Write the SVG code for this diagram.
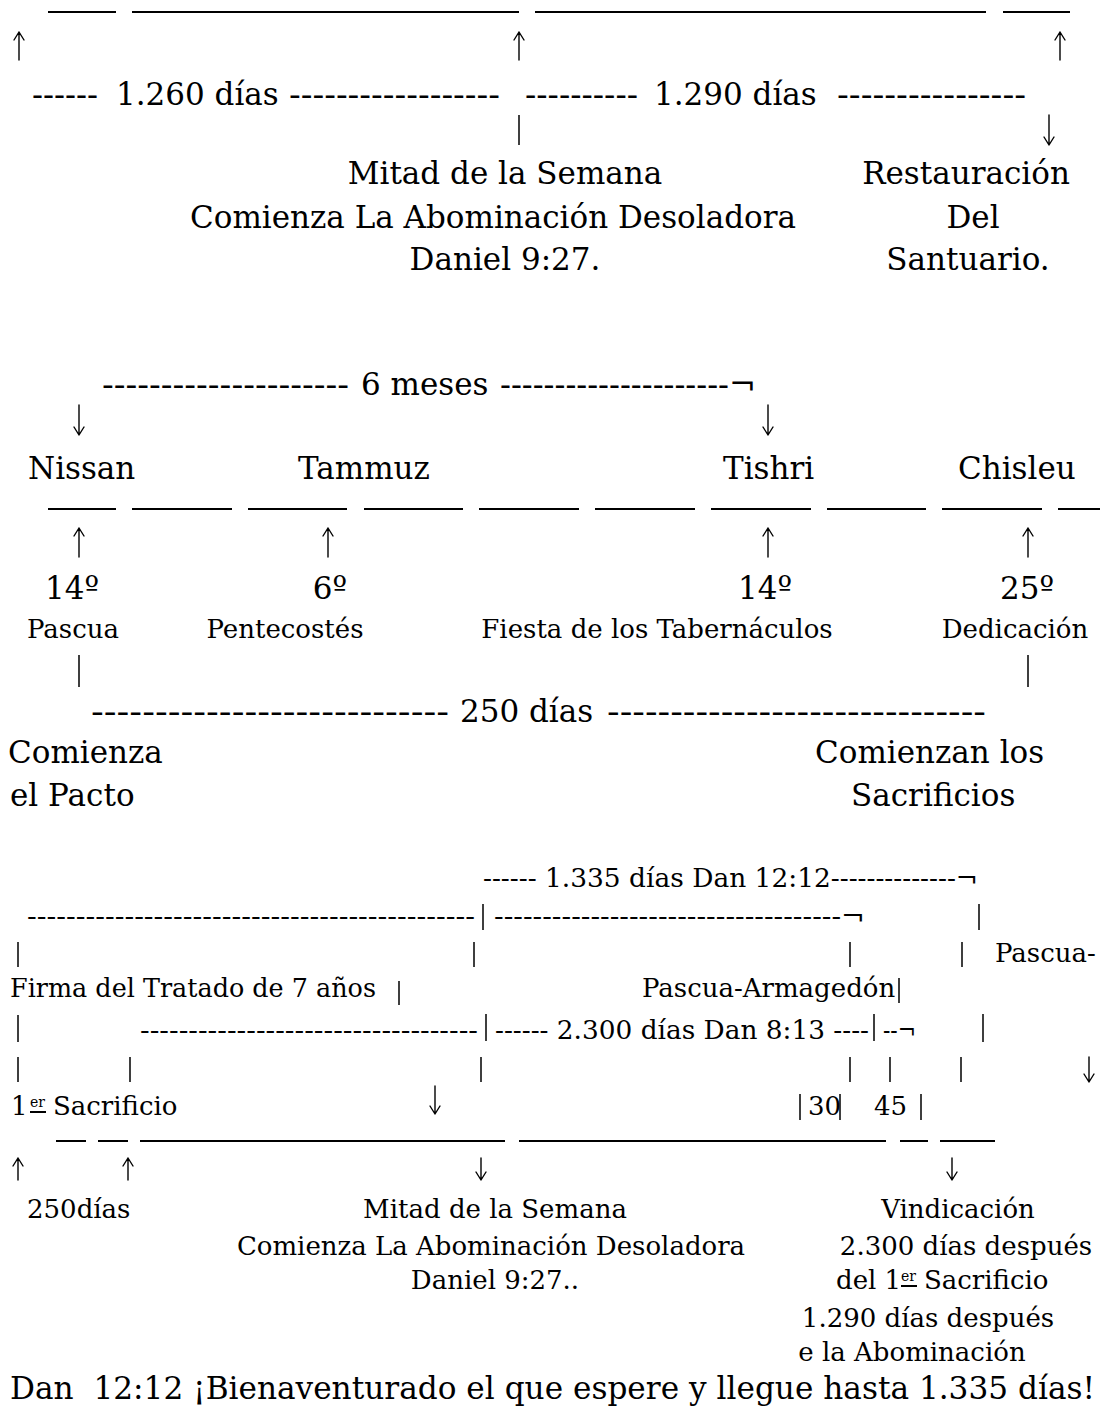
<svg xmlns="http://www.w3.org/2000/svg" width="1102" height="1419" viewBox="0 0 1102 1419">
<style>
text{font-family:'DejaVu Serif','Liberation Serif',serif;fill:#000}
.L{font-size:31px}
.M{font-size:26px}
.S{font-size:14px}
.mid{text-anchor:middle}
.rule{stroke:#000;stroke-width:2.2;fill:none}
.bar{stroke:#000;stroke-width:1.5;fill:none}
.arr{stroke:#000;stroke-width:1.4;fill:none;stroke-linecap:round;stroke-linejoin:round}
.ul{stroke:#000;stroke-width:2;fill:none}
</style>
<rect width="1102" height="1419" fill="#fff"/>

<g id="connectors">
  <path class="rule" d="M48,12H116M132,12H519M535,12H986M1003,12H1070"/>
  <path class="arr" d="M19,32V60M14,40L19,32L24,40M519,32V60M514,40L519,32L524,40M1060,32V60M1055,40L1060,32L1065,40"/>
  <path class="bar" d="M519,115V145"/>
  <path class="arr" d="M1049,115V145M1044,137L1049,145L1054,137"/>

  <path class="arr" d="M79,405V435M74,427L79,435L84,427M768,405V435M763,427L768,435L773,427"/>
  <path class="rule" d="M48,509H116M132,509H232M248,509H347M364,509H463M479,509H579M595,509H695M711,509H811M827,509H926M942,509H1042M1058,509H1100"/>
  <path class="arr" d="M79,528V557M74,536L79,528L84,536M328,528V557M323,536L328,528L333,536M768,528V557M763,536L768,528L773,536M1028,528V557M1023,536L1028,528L1033,536"/>
  <path class="bar" d="M79,655V687M1028,655V687"/>

  <path class="bar" d="M483,904V930M979,904V930"/>
  <path class="bar" d="M18,942V967M474,942V967M850,942V967M962,942V967"/>
  <path class="bar" d="M399,981V1005M899,978V1003"/>
  <path class="bar" d="M18,1015V1042M486,1014V1041M874,1014V1041M983,1014V1042"/>
  <path class="bar" d="M18,1057V1082M130,1057V1082M481,1057V1082M850,1057V1082M890,1057V1082M961,1057V1082"/>
  <path class="arr" d="M1089,1057V1082M1084,1074L1089,1082L1094,1074"/>
  <path class="arr" d="M435,1086V1114M430,1106L435,1114L440,1106"/>
  <path class="bar" d="M800,1094V1120M840,1094V1120M921,1094V1120"/>
  <path class="rule" d="M56,1141H86M98,1141H128M140,1141H505M519,1141H886M900,1141H928M940,1141H995"/>
  <path class="arr" d="M18,1158V1180M13,1166L18,1158L23,1166M128,1158V1180M123,1166L128,1158L133,1166"/>
  <path class="arr" d="M481,1158V1180M476,1172L481,1180L486,1172M952,1158V1180M947,1172L952,1180L957,1172"/>
</g>

<g id="span-1260">
  <text class="L" x="32" y="105" textLength="66" lengthAdjust="spacingAndGlyphs">------</text>
  <text class="L" x="116" y="105">1.260 días</text>
  <text class="L" x="289" y="105" textLength="211" lengthAdjust="spacingAndGlyphs">------------------</text>
</g>
<g id="span-1290">
  <text class="L" x="525" y="105" textLength="113" lengthAdjust="spacingAndGlyphs">----------</text>
  <text class="L" x="654" y="105">1.290 días</text>
  <text class="L" x="837" y="105" textLength="189" lengthAdjust="spacingAndGlyphs">----------------</text>
</g>
<g id="mitad-top">
  <text class="L mid" x="505" y="184">Mitad de la Semana</text>
  <text class="L mid" x="493" y="228">Comienza La Abominación Desoladora</text>
  <text class="L mid" x="505" y="270">Daniel 9:27.</text>
</g>
<g id="restauracion">
  <text class="L mid" x="966" y="184">Restauración</text>
  <text class="L mid" x="973" y="228">Del</text>
  <text class="L mid" x="968" y="270">Santuario.</text>
</g>

<g id="span-6meses">
  <text class="L" x="102" y="395" textLength="247" lengthAdjust="spacingAndGlyphs">---------------------</text>
  <text class="L" x="361" y="395">6 meses</text>
  <text class="L" x="500" y="395" textLength="256" lengthAdjust="spacingAndGlyphs">---------------------¬</text>
</g>
<g id="months">
  <text class="L" x="28" y="479">Nissan</text>
  <text class="L" x="298" y="479">Tammuz</text>
  <text class="L" x="723" y="479">Tishri</text>
  <text class="L" x="958" y="479">Chisleu</text>
</g>
<g id="fiesta-pascua">
  <text class="L mid" x="72" y="599">14º</text>
  <text class="M mid" x="73" y="638">Pascua</text>
</g>
<g id="fiesta-pentecostes">
  <text class="L mid" x="330" y="599">6º</text>
  <text class="M mid" x="285" y="638">Pentecostés</text>
</g>
<g id="fiesta-tabernaculos">
  <text class="L mid" x="765" y="599">14º</text>
  <text class="M mid" x="657" y="638">Fiesta de los Tabernáculos</text>
</g>
<g id="fiesta-dedicacion">
  <text class="L mid" x="1027" y="599">25º</text>
  <text class="M mid" x="1015" y="638">Dedicación</text>
</g>
<g id="span-250">
  <text class="L" x="91" y="722" textLength="358" lengthAdjust="spacingAndGlyphs">----------------------------</text>
  <text class="L" x="460" y="722">250 días</text>
  <text class="L" x="607" y="722" textLength="379" lengthAdjust="spacingAndGlyphs">------------------------------</text>
</g>
<g id="pacto">
  <text class="L" x="8" y="763">Comienza</text>
  <text class="L" x="10" y="806">el Pacto</text>
</g>
<g id="sacrificios">
  <text class="L" x="815" y="763">Comienzan los</text>
  <text class="L" x="851" y="806">Sacrificios</text>
</g>

<g id="span-1335">
  <text class="M" x="483" y="887" textLength="495" lengthAdjust="spacingAndGlyphs">------ 1.335 días Dan 12:12--------------¬</text>
</g>
<g id="span-row2">
  <text class="M" x="27" y="925" textLength="448" lengthAdjust="spacingAndGlyphs">----------------------------------------------</text>
  <text class="M" x="494" y="925" textLength="371" lengthAdjust="spacingAndGlyphs">------------------------------------¬</text>
</g>
<g id="pascua-right">
  <text class="M" x="995" y="962">Pascua-</text>
</g>
<g id="firma">
  <text class="M" x="10" y="997" textLength="366" lengthAdjust="spacingAndGlyphs">Firma del Tratado de 7 años</text>
</g>
<g id="armagedon">
  <text class="M" x="642" y="997">Pascua-Armagedón</text>
</g>
<g id="span-2300">
  <text class="M" x="140" y="1039" textLength="338" lengthAdjust="spacingAndGlyphs">-----------------------------------</text>
  <text class="M" x="495" y="1039" textLength="374" lengthAdjust="spacingAndGlyphs">------ 2.300 días Dan 8:13 ----</text>
  <text class="M" x="883" y="1039" textLength="33" lengthAdjust="spacingAndGlyphs">--¬</text>
</g>
<g id="primer-sacrificio">
  <text class="M" x="11" y="1115">1</text>
  <text class="S" x="30" y="1107">er</text>
  <path class="ul" d="M30,1112H46"/>
  <text class="M" x="53" y="1115">Sacrificio</text>
</g>
<g id="dias-30-45">
  <text class="M" x="808" y="1115">30</text>
  <text class="M" x="874" y="1115">45</text>
</g>
<g id="label-250dias">
  <text class="M" x="27" y="1218">250días</text>
</g>
<g id="mitad-bottom">
  <text class="M mid" x="495" y="1218">Mitad de la Semana</text>
  <text class="M mid" x="491" y="1255">Comienza La Abominación Desoladora</text>
  <text class="M mid" x="495" y="1289">Daniel 9:27..</text>
</g>
<g id="vindicacion">
  <text class="M mid" x="958" y="1218">Vindicación</text>
  <text class="M mid" x="966" y="1255">2.300 días después</text>
  <text class="M" x="836" y="1289">del 1</text>
  <text class="S" x="901" y="1281">er</text>
  <path class="ul" d="M901,1286H917"/>
  <text class="M" x="924" y="1289">Sacrificio</text>
  <text class="M mid" x="928" y="1327">1.290 días después</text>
  <text class="M mid" x="912" y="1361">e la Abominación</text>
</g>
<g id="bienaventurado">
  <text class="L" x="10" y="1399" xml:space="preserve" textLength="1085" lengthAdjust="spacingAndGlyphs">Dan  12:12 ¡Bienaventurado el que espere y llegue hasta 1.335 días!</text>
</g>
</svg>
